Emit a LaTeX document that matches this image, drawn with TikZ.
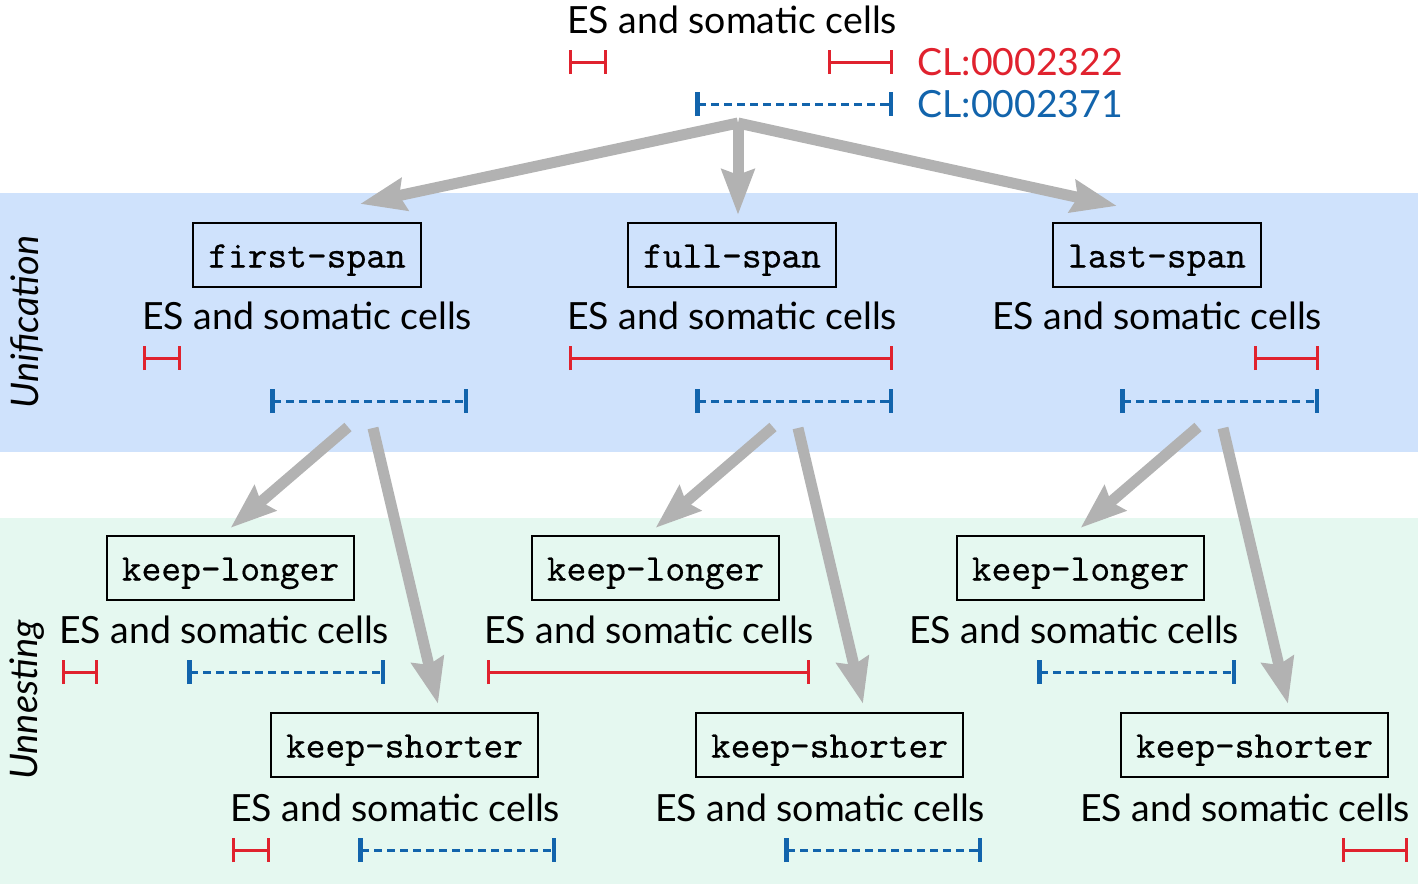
\documentclass[tikz,border=0pt]{standalone}
\usepackage{fontspec}
\setmainfont{Lato}
\setmonofont{Latin Modern Mono}[FakeBold=0.4]
\usetikzlibrary{arrows.meta,calc}
\definecolor{clred}{RGB}{224,34,46}
\definecolor{clblue}{RGB}{18,100,172}
\definecolor{flowgray}{RGB}{178,178,178}
\definecolor{unifbg}{RGB}{207,226,252}
\definecolor{unnestbg}{RGB}{229,248,240}
\tikzset{>=Stealth,
  flow/.style={draw=flowgray,line width=0.11cm,
    -{Stealth[length=0.45cm,width=0.32cm,inset=0.05cm]}},
  algo/.style={draw,line width=0.6pt,inner xsep=0.15cm,minimum height=0.64cm,
    text height=0.3cm,text depth=0.05cm,
    font=\ttfamily\fontsize{10.7}{11}\selectfont},
  term/.style={font=\fontsize{10.65}{12}\selectfont},
  redspan/.style={clred,line width=0.03cm,{Bar[width=0.24cm]}-{Bar[width=0.24cm]}},
  bluespan/.style={clblue,line width=0.03cm,dash pattern=on 0.08cm off 0.05cm,
    {Bar[width=0.24cm,line width=0.045cm]}-{Bar[width=0.24cm,line width=0.045cm]}}}

\begin{document}
\begin{tikzpicture}[x=0.01cm,y=-0.01cm]
\useasboundingbox (0,0) rectangle (1424,884);

% bands
\fill[unifbg] (0,193) rectangle (1418,452);
\fill[unnestbg] (0,518) rectangle (1418,884);
\node[term,rotate=90,font=\itshape\fontsize{10.8}{12}\selectfont] (unif) at (27,322) {Unification};
\node[term,rotate=90,font=\itshape\fontsize{10.8}{12}\selectfont] (unnest) at (27,700) {Unnesting};

% input term
\node[term] (top) at (732,20) {ES and somatic cells};
\node[term,anchor=west,text=clred] (cla) at (905,62) {CL:0002322};
\node[term,anchor=west,text=clblue] (clb) at (905,104) {CL:0002371};
\coordinate (src) at (738,123);

% strategies
\foreach \i/\dx/\name in {1/0/first-span,2/425/full-span,3/850/last-span} {
  \node[algo] (u\i) at (307+\dx,255) {\name};
  \node[term] (tu\i) at (307+\dx,316) {ES and somatic cells};
  \node[algo] (l\i) at (230.5+\dx,568) {keep-longer};
  \node[term] (tl\i) at (224+\dx,630) {ES and somatic cells};
  \node[algo] (s\i) at (404.5+\dx,745) {keep-shorter};
  \node[term] (ts\i) at (395+\dx,808) {ES and somatic cells};
  \coordinate (ol\i) at (348+\dx,427);
  \coordinate (os\i) at (373+\dx,428);
}

% spans
\foreach \a/\b/\y in {569/607/62,828/893/62,
    143/181/358,569/893/358,1254/1319/358,
    62/98/672,487/810/672,
    232/270/850,1342/1408/850}
  \draw[redspan] (\a,\y) -- (\b,\y);
\foreach \a/\b/\y in {695/893/104,
    270/468/401,695/893/401,1120/1319/401,
    187/385/672,1037/1236/672,
    358/556/850,784/982/850}
  \draw[bluespan] (\a,\y) -- (\b,\y);

% arrows
\draw[flow] (src) -- ([shift={(53,-18)}]u1.north);
\draw[flow] (src) -- ([shift={(6,-7)}]u2.north);
\draw[flow] (src) -- ([shift={(-40,-16)}]u3.north);
\foreach \i in {1,2,3} {
  \draw[flow] (ol\i) -- ([shift={(0,-7)}]l\i.north);
  \draw[flow] (os\i) -- ([shift={(33.5,-8)}]s\i.north);
}
\end{tikzpicture}
\end{document}
